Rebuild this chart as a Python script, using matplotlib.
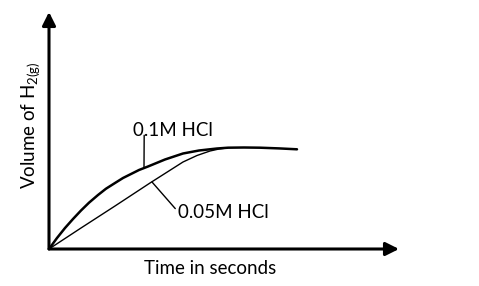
import matplotlib
matplotlib.use("Agg")
import matplotlib.pyplot as plt

plt.rcParams["font.family"] = ["Lato", "DejaVu Sans"]
plt.rcParams["mathtext.fontset"] = "custom"
plt.rcParams["mathtext.rm"] = "Lato"

# curves (arbitrary units: time, volume)
time_fast = [0, 8, 16, 24, 32, 40, 49, 57, 66, 74, 82, 90, 99, 116, 134, 150, 168, 179, 195, 211, 230, 248]
vol_fast = [0, 11, 21, 30, 38.5, 46.3, 54, 60.3, 66, 71, 75, 79, 82.5, 89.5, 95.5, 98.5, 100.5, 101.3, 101.5, 101.3, 100.6, 99.7]

time_slow = [0, 32, 66, 101, 134, 148, 161, 170, 178]
vol_slow = [0, 21, 43, 66, 87, 93.5, 98, 100, 101]

label_fast = "0.1M HCl"
label_slow = "0.05M HCl"

W, H = 479, 286
fig = plt.figure(figsize=(W / 100, H / 100), dpi=100)
ax = fig.add_axes([49 / W, 37 / H, 350 / W, 237 / H])
ax.set_xlim(0, 350)
ax.set_ylim(0, 237)
ax.axis("off")

ax.plot(time_fast, vol_fast, color="black", lw=1.8, solid_capstyle="round",
        solid_joinstyle="round")
ax.plot(time_slow, vol_slow, color="black", lw=1.0, solid_joinstyle="round")

# axes with arrow heads
arrow = dict(arrowstyle="-|>,head_length=0.4,head_width=0.2", lw=2.2,
             color="black", mutation_scale=20, shrinkA=0, shrinkB=0)
ax.annotate("", xy=(1, 0), xytext=(0, 0), xycoords="axes fraction",
            textcoords="axes fraction", arrowprops=arrow)
ax.annotate("", xy=(0, 1), xytext=(0, 0), xycoords="axes fraction",
            textcoords="axes fraction", arrowprops=arrow)

# curve labels with leader lines
ax.annotate(label_fast, xy=(95, 81), xytext=(84, 118), fontsize=13.5,
            va="center", ha="left",
            arrowprops=dict(arrowstyle="-", lw=1.0, color="black",
                            relpos=(0.14, 0.25), patchA=None,
                            shrinkA=0, shrinkB=0))
ax.annotate(label_slow, xy=(103, 67), xytext=(129, 37), fontsize=13.5,
            va="center", ha="left",
            arrowprops=dict(arrowstyle="-", lw=1.0, color="black",
                            relpos=(-0.03, 0.7), patchA=None,
                            shrinkA=0, shrinkB=0))

fig.text(31 / W, 1 - 125 / H, r"Volume of H$_{\mathrm{2(g)}}$", rotation=90,
         ha="center", va="center", fontsize=13.5)
fig.text(210 / W, 1 - 268 / H, "Time in seconds", ha="center", va="center",
         fontsize=13.5)

fig.savefig("out.png", dpi=100)
